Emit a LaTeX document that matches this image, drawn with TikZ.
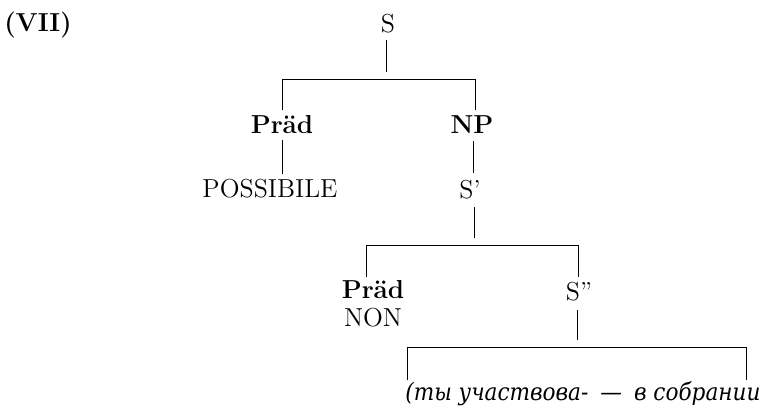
\documentclass[tikz,border=0pt]{standalone}
\usepackage{fontspec}
\newfontfamily\rufont{DejaVu Serif Condensed}
\begin{document}
\begin{tikzpicture}[x=0.5pt,y=-0.5pt,
  lbl/.style={anchor=base, inner sep=0pt, font=\fontsize{13}{15}\selectfont},
  blbl/.style={lbl, font=\fontsize{13}{15}\selectfont\bfseries},
  rulel/.style={line width=0.5pt, line cap=butt}]
\useasboundingbox (0,0) rectangle (767,408);
% labels
\node[blbl] (vii) at (38,31) {(VII)};
\node[lbl] (S) at (388,32) {S};
\node[blbl] (P1) at (282,133) {Präd};
\node[blbl] (NP) at (472,133) {NP};
\node[lbl] (POSS) at (270,197) {POSSIBILE};
\node[lbl] (Sp) at (470,198) {S'};
\node[blbl] (P2) at (373,298) {Präd};
\node[lbl] (NON) at (373,326) {NON};
\node[lbl] (Spp) at (579,300) {S''};
\node[lbl, anchor=base west, font=\fontsize{12}{14}\selectfont\rufont\itshape] (ru) at (405,400) {(ты участвова-\hspace{0.5em}—\hspace{0.5em}в собрании};
% coordinates
\coordinate (s0a) at (386,40);  \coordinate (s0b) at (386,72);
\coordinate (b1l) at (282,110); \coordinate (b1r) at (475,79); \coordinate (b1re) at (475,110);
\coordinate (p1a) at (282,140); \coordinate (p1b) at (282,174);
\coordinate (npa) at (473,141); \coordinate (npb) at (473,173);
\coordinate (spa) at (474,207); \coordinate (spb) at (474,238);
\coordinate (b2l) at (366,277); \coordinate (b2r) at (578,245); \coordinate (b2re) at (578,277);
\coordinate (sppa) at (577,310); \coordinate (sppb) at (577,340);
\coordinate (b3l) at (407,380); \coordinate (b3r) at (746,347); \coordinate (b3re) at (746,380);
% connectors
\draw[rulel] (s0a) -- (s0b);
\draw[rulel] (b1l) |- (b1r) -- (b1re);
\draw[rulel] (p1a) -- (p1b);
\draw[rulel] (npa) -- (npb);
\draw[rulel] (spa) -- (spb);
\draw[rulel] (b2l) |- (b2r) -- (b2re);
\draw[rulel] (sppa) -- (sppb);
\draw[rulel] (b3l) |- (b3r) -- (b3re);
\end{tikzpicture}
\end{document}
